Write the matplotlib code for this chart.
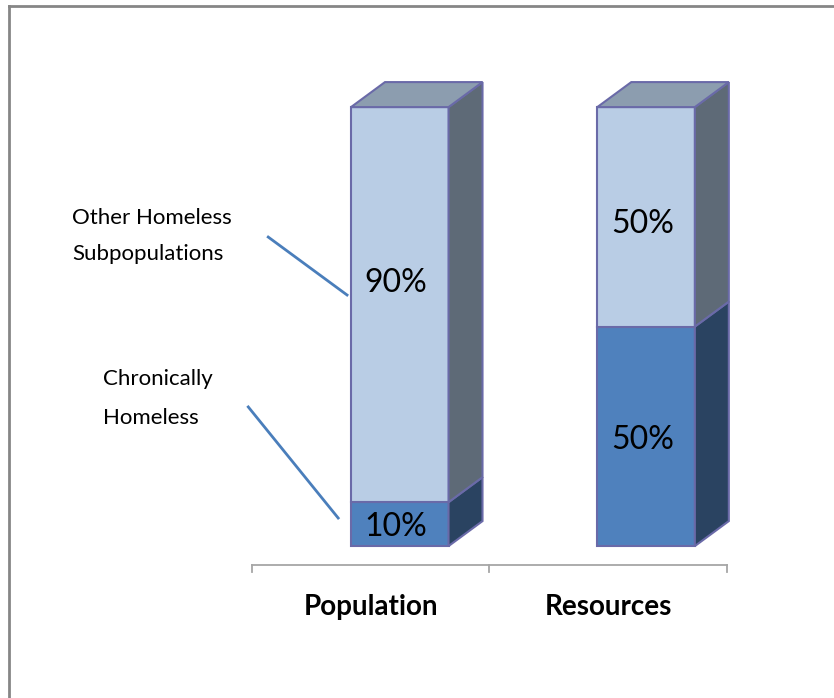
import matplotlib
matplotlib.use("Agg")
import matplotlib.pyplot as plt
from matplotlib.patches import Polygon, Rectangle
from matplotlib.lines import Line2D
import numpy as np

plt.rcParams['font.family'] = ['Lato', 'DejaVu Sans']

# ---- data ----
categories = ["Population", "Resources"]
chronic = [10, 50]
other = [90, 50]
series_names = ["Chronically\nHomeless", "Other Homeless\nSubpopulations"]

# ---- style ----
front_colors = ["#4F81BD", "#B9CDE5"]
side_colors = ["#2A4361", "#5E6A77"]
top_colors = ["#3E628D", "#8C9DAF"]
edge_color = "#6A6AA8"
bar_w = 0.396
dx, dy = 0.138, 5.7
# small vertical nudges of the value labels (per bar, per series)
label_nudge = [[-0.7, 4.9], [-0.9, -1.7]]

fig = plt.figure(figsize=(8.34, 6.98), dpi=100)
ax = fig.add_axes([0, 0, 1, 1])
ax.set_xlim(-1.623, 1.763)
ax.set_ylim(-34.6, 124.4)
ax.axis('off')

xs = np.arange(len(categories))
stacks = [chronic, other]
for i, x in enumerate(xs):
    bottom = 0
    xl, xr = x - bar_w / 2, x + bar_w / 2
    for s, vals in enumerate(stacks):
        v = vals[i]
        y0, y1 = bottom, bottom + v
        ax.add_patch(Rectangle((xl, y0), bar_w, v, facecolor=front_colors[s],
                               edgecolor=edge_color, lw=1.5, zorder=3))
        ax.add_patch(Polygon([(xr, y0), (xr + dx, y0 + dy), (xr + dx, y1 + dy), (xr, y1)],
                             closed=True, facecolor=side_colors[s],
                             edgecolor=edge_color, lw=1.5, zorder=3))
        if s == len(stacks) - 1:
            ax.add_patch(Polygon([(xl, y1), (xl + dx, y1 + dy), (xr + dx, y1 + dy), (xr, y1)],
                                 closed=True, facecolor=top_colors[s],
                                 edgecolor=edge_color, lw=1.5, zorder=3))
        ax.text(x - 0.015, (y0 + y1) / 2 + label_nudge[i][s], f"{v}%",
                ha='center', va='center', fontsize=23, color='black', zorder=4)
        bottom = y1

# category axis (floor line with ticks)
base_y = -4.33
tick_len = 1.6
tick_x = [-0.6, 0.3636, 1.33]
ax.plot([tick_x[0], tick_x[-1]], [base_y, base_y], color='#A6A6A6', lw=1.3, zorder=2)
for t in tick_x:
    ax.plot([t, t], [base_y, base_y - tick_len], color='#A6A6A6', lw=1.3, zorder=2)
for k, name in enumerate(categories):
    cx = (tick_x[k] + tick_x[k + 1]) / 2
    ax.text(cx, -13.9, name, ha='center', va='center', fontsize=20,
            fontweight='bold', color='black')

# series labels with leader lines
lab_other = series_names[1].split("\n")
lab_chron = series_names[0].split("\n")
ax.text(-1.33, 73.3, lab_other[0], ha='left', va='baseline', fontsize=16)
ax.text(-1.33, 65.2, lab_other[1], ha='left', va='baseline', fontsize=16)
ax.text(-1.205, 36.7, lab_chron[0], ha='left', va='baseline', fontsize=16)
ax.text(-1.205, 27.8, lab_chron[1], ha='left', va='baseline', fontsize=16)
ax.plot([-0.534, -0.214], [70.4, 57.2], color='#4A7EBB', lw=2, zorder=5)
ax.plot([-0.615, -0.25], [31.7, 6.4], color='#4A7EBB', lw=2, zorder=5)

# chart border (top and left visible)
fig.add_artist(Line2D([8.5 / 834, 1.0], [1 - 5.5 / 698, 1 - 5.5 / 698],
                      transform=fig.transFigure, color='#868686', lw=2))
fig.add_artist(Line2D([8.5 / 834, 8.5 / 834], [0, 1 - 5.5 / 698],
                      transform=fig.transFigure, color='#868686', lw=2))

fig.savefig("out.png", dpi=100)
